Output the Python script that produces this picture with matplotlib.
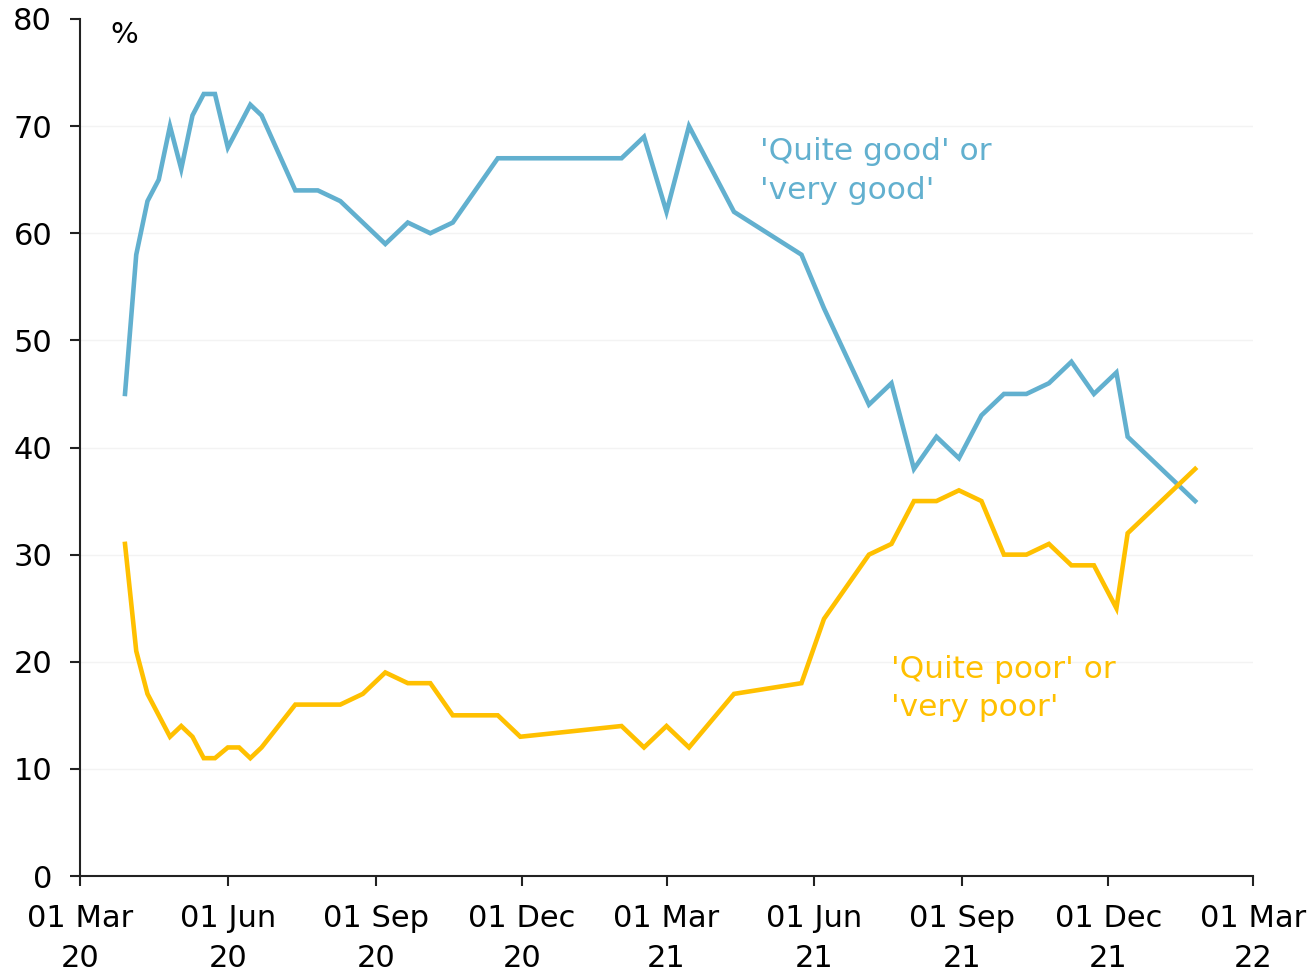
import pandas as pd
import matplotlib
matplotlib.use("Agg")
import matplotlib.pyplot as plt

# Survey dates
dates = pd.to_datetime([
    "2020-03-29", "2020-04-05", "2020-04-12", "2020-04-19", "2020-04-26",
    "2020-05-03", "2020-05-10", "2020-05-17", "2020-05-24", "2020-06-01",
    "2020-06-08", "2020-06-15", "2020-06-22", "2020-07-13", "2020-07-27",
    "2020-08-10", "2020-08-24", "2020-09-07", "2020-09-21", "2020-10-05",
    "2020-10-19", "2020-11-16", "2020-11-30", "2021-02-01", "2021-02-15",
    "2021-03-01", "2021-03-15", "2021-04-12", "2021-05-24", "2021-06-07",
    "2021-07-05", "2021-07-19", "2021-08-02", "2021-08-16", "2021-08-30",
    "2021-09-13", "2021-09-27", "2021-10-11", "2021-10-25", "2021-11-08",
    "2021-11-22", "2021-12-06", "2021-12-13", "2022-01-24",
])

good = [45, 58, 63, 65, 70, 66, 71, 73, 73, 68,
        70, 72, 71, 64, 64, 63, 61, 59, 61, 60,
        61, 67, 67, 67, 69, 62, 70, 62, 58, 53,
        44, 46, 38, 41, 39, 43, 45, 45, 46, 48,
        45, 47, 41, 35]

poor = [31, 21, 17, 15, 13, 14, 13, 11, 11, 12,
        12, 11, 12, 16, 16, 16, 17, 19, 18, 18,
        15, 15, 13, 14, 12, 14, 12, 17, 18, 24,
        30, 31, 35, 35, 36, 35, 30, 30, 31, 29,
        29, 25, 32, 38]

tick_dates = pd.to_datetime(["2020-03-01", "2020-06-01", "2020-09-01", "2020-12-01",
                             "2021-03-01", "2021-06-01", "2021-09-01", "2021-12-01",
                             "2022-03-01"])
tick_labels = ["01 Mar\n20", "01 Jun\n20", "01 Sep\n20", "01 Dec\n20",
               "01 Mar\n21", "01 Jun\n21", "01 Sep\n21", "01 Dec\n21",
               "01 Mar\n22"]

blue = "#62B0CF"
yellow = "#FFC000"

plt.rcParams['font.family'] = ['DejaVu Sans']

fig = plt.figure(figsize=(13.14, 9.76), dpi=100)
ax = fig.add_axes([80 / 1314, 1 - 876 / 976, 1173 / 1314, 857 / 976])

ax.plot(dates, good, color=blue, lw=3.3, solid_joinstyle='miter')
ax.plot(dates, poor, color=yellow, lw=3.3, solid_joinstyle='miter')

ax.set_xlim(tick_dates[0], tick_dates[-1])
ax.set_ylim(0, 80)
ax.set_yticks(range(0, 81, 10))
ax.set_xticks(tick_dates)
ax.set_xticklabels(tick_labels, linespacing=1.5)

for y in range(10, 80, 10):
    ax.axhline(y, color="#F3F3F3", lw=1, zorder=0)

for s in ["top", "right"]:
    ax.spines[s].set_visible(False)
for s in ["left", "bottom"]:
    ax.spines[s].set_linewidth(1.5)
    ax.spines[s].set_color("#222222")

ax.tick_params(axis='y', length=7, width=1.5, pad=13, labelsize=22, color="#222222")
ax.tick_params(axis='x', length=7, width=1.5, pad=13, labelsize=22, color="#222222")

ax.text(0.038, 0.981, "%", transform=ax.transAxes, fontsize=21, ha='center', va='center')

# series labels
ax.text(pd.Timestamp("2021-04-28"), 67.6, "'Quite good' or", color=blue,
        fontsize=22.5, ha='left', va='center')
ax.text(pd.Timestamp("2021-04-28"), 64.0, "'very good'", color=blue,
        fontsize=22.5, ha='left', va='center')
ax.text(pd.Timestamp("2021-07-19"), 19.3, "'Quite poor' or", color=yellow,
        fontsize=22.5, ha='left', va='center')
ax.text(pd.Timestamp("2021-07-19"), 15.7, "'very poor'", color=yellow,
        fontsize=22.5, ha='left', va='center')

plt.savefig("out.png", dpi=100)
